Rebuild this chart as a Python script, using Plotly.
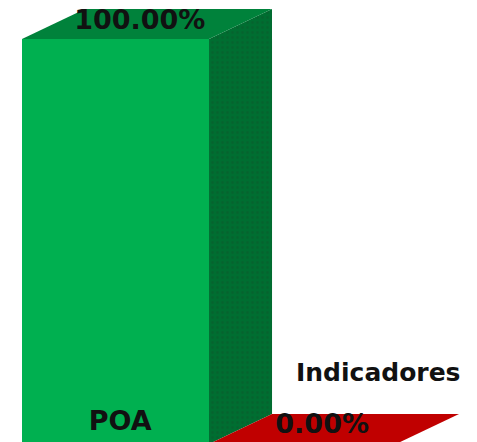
import plotly.graph_objects as go

categories = ["POA", "Indicadores"]
values = [100.0, 0.0]
value_labels = ["100.00%", "0.00%"]

FRONT = ["#00B050", "#C00000"]
TOP = ["#00823B", "#C00000"]
SIDE = ["#006E31", "#C00000"]

DX, DY = 0.337, 7.4   # oblique depth of the 3-D box, in data units
HALF = 0.5

fig = go.Figure()

for i, (cat, v) in enumerate(zip(categories, values)):
    l, r = i - HALF, i + HALF
    # side face
    if v > 0:
        fig.add_trace(go.Scatter(
            x=[r, r + DX, r + DX, r], y=[0, DY, v + DY, v], mode="lines",
            fill="toself", fillcolor=SIDE[i], line=dict(width=0),
            fillpattern=dict(shape=".", fgcolor="#0A5A2C", bgcolor=SIDE[i],
                             size=5, solidity=0.25),
            hoverinfo="skip", showlegend=False))
    # top face
    fig.add_trace(go.Scatter(
        x=[l, l + DX, r + DX, r], y=[v, v + DY, v + DY, v], mode="lines",
        fill="toself", fillcolor=TOP[i], line=dict(width=0),
        hoverinfo="skip", showlegend=False))

# front faces
fig.add_trace(go.Bar(x=[0, 1], y=values, width=1.0, marker=dict(color=FRONT, line=dict(width=0)),
                     hoverinfo="skip", showlegend=False))

# value labels sit on the top faces
fig.add_trace(go.Scatter(
    x=[0 + 0.13, 1 + 0.105], y=[v + 4.0 if v else 4.4 for v in values],
    mode="text", text=value_labels,
    textfont=dict(family="DejaVu Sans", size=[27, 27], color="#111111", weight="bold"),
    textposition="middle center", hoverinfo="skip", showlegend=False))

# category labels
fig.add_trace(go.Scatter(
    x=[0.025, 1.405], y=[5.1, 17.2], mode="text", text=categories,
    textfont=dict(family="DejaVu Sans", size=[27, 25], color="#111111", weight="bold"),
    textposition="middle center", hoverinfo="skip", showlegend=False))

fig.update_layout(
    width=477, height=442, margin=dict(l=0, r=0, t=0, b=0),
    paper_bgcolor="white", plot_bgcolor="white", bargap=0,
    xaxis=dict(range=[-0.6176, 1.933], visible=False, fixedrange=True),
    yaxis=dict(range=[0.49, 109.6], visible=False, fixedrange=True),
)
fig.write_html("out.html", config={"displayModeBar": False},
               post_script="document.body.style.margin='0';document.body.style.overflow='hidden';")
